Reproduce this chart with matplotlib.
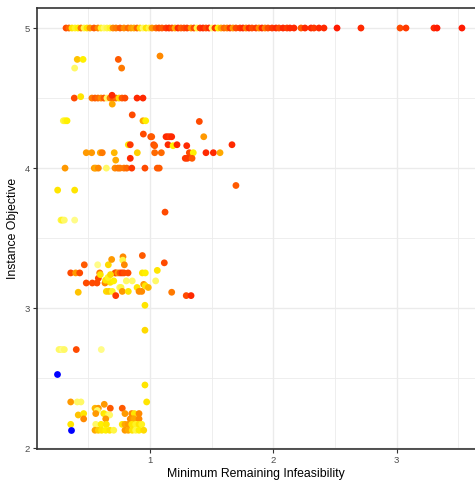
import numpy as np
import matplotlib
matplotlib.use("Agg")
import matplotlib.pyplot as plt
from matplotlib.colors import LinearSegmentedColormap
from matplotlib.ticker import MultipleLocator

plt.rcParams['font.family'] = ['Liberation Sans', 'DejaVu Sans']

# ---- data: rows of (x, y, colour value 0=light yellow .. 1=red) ----
top_x = [0.319, 0.343, 0.367, 0.392, 0.416, 0.440, 0.465, 0.489, 0.513, 0.546, 0.578, 0.603,
         0.627, 0.651, 0.676, 0.700, 0.724, 0.757, 0.789, 0.822, 0.846, 0.870, 0.895, 0.919,
         0.943, 0.968, 0.992, 1.016, 1.049, 1.073, 1.097, 1.130, 1.154, 1.178, 1.203, 1.227,
         1.251, 1.276, 1.300, 1.333, 1.357, 1.381, 1.406, 1.430, 1.454, 1.479, 1.503, 1.527,
         1.552, 1.576, 1.600, 1.625, 1.649, 1.673, 1.697, 1.730, 1.754, 1.779, 1.803, 1.827,
         1.860, 1.884, 1.908, 1.933, 1.957, 1.990, 2.022, 2.046, 2.079, 2.111, 2.135, 2.168,
         2.225, 2.257, 2.306, 2.330, 2.370, 2.411, 2.517, 2.711, 3.028, 3.076, 3.303, 3.328, 3.530]
top_c = [.85, .75, .3, .2, .25, .7, .15, .3, .6, .8, .65, .2,
         .1, .15, .2, .65, .7, .8, .65, .75, .6, .55, .75, .35,
         .1, .3, .15, .6, .75, .85, .8, .9, .95, .85, .55, .95,
         .8, .85, .9, .6, .85, .15, .9, .95, .85, .95, .1, .9,
         .25, .55, .75, .7, .9, .6, .85, .9, .95, .7, .95, .85,
         .9, .65, .95, .7, .85, .9, .95, .85, .95, .9, .95, .95,
         .8, .95, .95, .9, .95, .95, 1, .95, .85, .9, .95, 1, 1]
top_y = [5.0] * len(top_x)

mid_x = [0.410, 0.457, 0.743, 0.389, 0.770, 1.081,
         0.386, 0.438, 0.529, 0.554, 0.578, 0.603, 0.627, 0.651, 0.676, 0.700, 0.724, 0.749,
         0.773, 0.797, 0.692, 0.694, 0.895, 0.943,
         0.856, 0.297, 0.311, 0.327, 0.943, 0.965, 1.400,
         0.946, 1.006, 1.014, 1.130, 1.146, 1.162, 1.176, 1.436,
         0.824, 0.840, 1.030, 1.038, 1.146, 1.187, 1.219, 1.298, 1.665,
         0.483, 0.527, 0.597, 0.613, 0.710, 0.897, 1.038, 1.092, 1.319, 1.351, 1.454, 1.514, 1.568,
         0.722, 0.840, 1.286, 1.303, 1.341,
         0.311, 0.548, 0.560, 0.581, 0.646, 0.716, 0.740, 0.757, 0.789, 0.811, 0.852, 0.959,
         1.059, 1.075,
         1.697, 0.251, 0.389, 1.122, 0.278, 0.290, 0.305, 0.389]
mid_y = [4.776, 4.776, 4.776, 4.714, 4.714, 4.80,
         4.5, 4.51, 4.5, 4.5, 4.5, 4.5, 4.5, 4.5, 4.5, 4.5, 4.5, 4.5,
         4.5, 4.5, 4.52, 4.457, 4.5, 4.5,
         4.38, 4.338, 4.338, 4.338, 4.338, 4.338, 4.333,
         4.243, 4.224, 4.224, 4.224, 4.224, 4.224, 4.224, 4.224,
         4.167, 4.167, 4.167, 4.160, 4.167, 4.160, 4.167, 4.160, 4.167,
         4.11, 4.11, 4.11, 4.11, 4.11, 4.11, 4.11, 4.11, 4.11, 4.11, 4.11, 4.11, 4.11,
         4.057, 4.07, 4.07, 4.07, 4.07,
         4.0, 4.0, 4.0, 4.0, 4.0, 4.0, 4.0, 4.0, 4.0, 4.0, 4.0, 4.0,
         4.0, 4.0,
         3.876, 3.843, 3.843, 3.686, 3.629, 3.629, 3.629, 3.629]
mid_c = [.45, .25, .8, .1, .7, .65,
         .85, .3, .7, .8, .75, .65, .8, .1, .7, .8, .75, .35,
         .8, .85, .95, .55, .95, .95,
         .85, .15, .2, .25, .55, .25, .85,
         .85, .85, .8, .95, .95, .9, .95, .6,
         .3, .9, .85, .8, .95, .25, .95, .95, .95,
         .6, .6, .55, .7, .5, .4, .75, .75, .85, .25, .95, .95, .55,
         .55, .95, .9, .9, .8,
         .6, .6, .55, .65, .1, .65, .7, .7, .7, .75, .9, .85,
         .8, .8,
         .8, .3, .3, .85, .15, .2, .1, .05]

low_x = [0.467, 0.357, 0.397, 0.430, 0.576, 0.662, 0.689, 0.781, 0.779, 0.792, 0.938, 1.116,
         1.059, 1.046, 1.176, 0.418, 0.483, 0.532, 0.570, 0.592, 0.581, 0.597,
         0.716, 0.724, 0.740, 0.757, 0.773, 0.789, 0.822, 0.938, 0.962,
         0.635, 0.678, 0.706, 0.646, 0.667, 0.694, 0.722, 0.754, 0.765, 0.775, 0.824, 0.808,
         0.856, 0.895, 0.911, 0.933, 0.949, 0.962, 0.986, 0.959, 0.959, 1.294, 1.333,
         0.640, 0.660, 0.680,
         0.262, 0.278, 0.290, 0.305, 0.402, 0.605, 0.959, 0.973,
         0.357, 0.410, 0.440, 0.418, 0.462, 0.462, 0.357,
         0.629, 0.554, 0.581, 0.573, 0.678, 0.775,
         0.560, 0.625, 0.646, 0.662, 0.673, 0.797, 0.852, 0.873, 0.911,
         0.641, 0.840, 0.860, 0.873, 0.911,
         0.560, 0.603, 0.646, 0.775, 0.797, 0.824, 0.852, 0.884, 0.911, 0.933,
         0.554, 0.581, 0.608, 0.641, 0.673, 0.706, 0.797, 0.824, 0.856, 0.884, 0.911, 0.949]
low_y = [3.31, 3.252, 3.252, 3.252, 3.31, 3.31, 3.348, 3.367, 3.343, 3.31, 3.376, 3.324,
         3.27, 3.195, 3.114, 3.114, 3.18, 3.18, 3.18, 3.252, 3.214, 3.24,
         3.252, 3.252, 3.252, 3.252, 3.252, 3.252, 3.252, 3.252, 3.252,
         3.18, 3.185, 3.195, 3.12, 3.12, 3.12, 3.09, 3.148, 3.148, 3.12, 3.12, 3.195,
         3.195, 3.148, 3.12, 3.12, 3.17, 3.16, 3.148, 3.021, 2.843, 3.09, 3.09,
         3.2, 3.22, 3.24,
         2.705, 2.705, 2.705, 2.705, 2.705, 2.705, 2.452, 2.331,
         2.331, 2.331, 2.331, 2.238, 2.248, 2.21, 2.171,
         2.314, 2.286, 2.286, 2.27, 2.286, 2.286,
         2.248, 2.248, 2.238, 2.238, 2.238, 2.248, 2.248, 2.248, 2.248,
         2.21, 2.21, 2.21, 2.21, 2.21,
         2.171, 2.171, 2.171, 2.171, 2.171, 2.171, 2.171, 2.171, 2.171, 2.171,
         2.129, 2.129, 2.129, 2.129, 2.129, 2.129, 2.129, 2.129, 2.129, 2.129, 2.129, 2.129]
low_c = [.8, .85, .6, .85, .05, .35, .6, .65, .15, .65, .8, .85,
         .3, .1, .7, .45, .85, .85, .85, .7, .85, .3,
         .75, .85, .6, .8, .9, .85, .85, .3, .25,
         .65, .3, .25, .35, .4, .2, .9, .1, .15, .6, .3, .1,
         .1, .3, .65, .65, .6, .3, .5, .3, .35, .85, .95,
         .3, .2, .35,
         .1, .1, .05, .1, .85, .05, .3, .3,
         .6, .1, .1, .45, .3, .65, .3,
         .6, .5, .6, .1, .8, .8,
         .6, .3, .25, .15, .1, .6, .65, .3, .65,
         .6, .65, .6, .55, .65,
         .1, .25, .3, .3, .55, .6, .3, .2, .3, .2,
         .55, .4, .3, .25, .3, .15, .6, .55, .3, .15, .25, .35]

# points drawn in blue
blue_x = [0.243, 0.357]
blue_y = [2.529, 2.129]

x_ticks = [1, 2, 3]
y_ticks = [2, 3, 4, 5]
x_label = "Minimum Remaining Infeasibility"
y_label = "Instance Objective"

xs = np.array(top_x + mid_x + low_x)
ys = np.array(top_y + mid_y + low_y)
cs = np.array(top_c + mid_c + low_c)

cmap = LinearSegmentedColormap.from_list(
    "heat", [(0.0, "#FFFFA8"), (0.25, "#FFF000"), (0.5, "#FFB800"),
             (0.75, "#FF6A00"), (1.0, "#FF1A00")])

fig = plt.figure(figsize=(4.75, 4.84), dpi=100)
ax = fig.add_axes([0.0779, 0.0717, 0.9221, 0.9118])

ax.scatter(xs, ys, c=cs, cmap=cmap, vmin=0, vmax=1, s=24, linewidths=0, zorder=3)
ax.scatter(blue_x, blue_y, color="#0000FF", s=24, linewidths=0, zorder=3)

ax.set_xlim(0.0835, 3.636)
ax.set_ylim(1.993, 5.143)
ax.set_xticks(x_ticks)
ax.set_yticks(y_ticks)
ax.xaxis.set_minor_locator(MultipleLocator(0.5))
ax.yaxis.set_minor_locator(MultipleLocator(0.5))
ax.grid(True, which="major", color="#EBEBEB", linewidth=1.0, zorder=0)
ax.grid(True, which="minor", color="#EBEBEB", linewidth=0.6, zorder=0)
ax.set_axisbelow(True)

for side in ["left", "bottom", "top"]:
    ax.spines[side].set_color("#333333")
    ax.spines[side].set_linewidth(1.2)
ax.spines["right"].set_visible(False)

ax.tick_params(which="major", length=3, width=0.8, color="#333333",
               labelsize=6.8, labelcolor="#4D4D4D", pad=2)
ax.tick_params(which="minor", length=0)

ax.set_xlabel(x_label, fontsize=8.8, color="black", labelpad=2)
ax.set_ylabel(y_label, fontsize=8.8, color="black", labelpad=4)

fig.savefig("out.png", dpi=100)
